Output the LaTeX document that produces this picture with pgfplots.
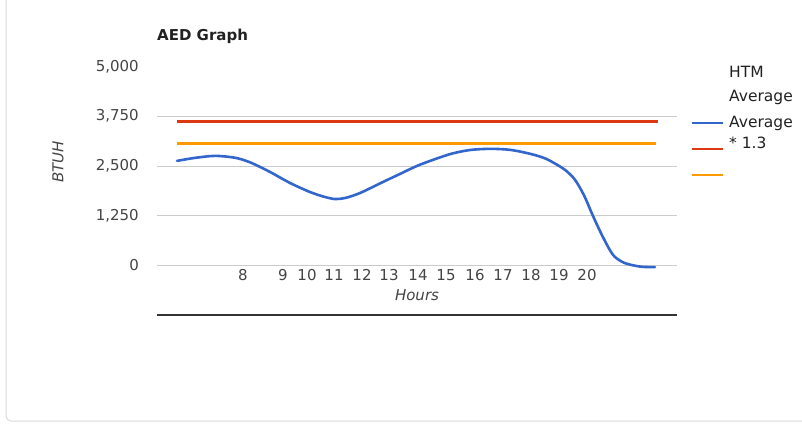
\documentclass[border=0pt]{standalone}
\usepackage{pgfplots}
\pgfplotsset{compat=1.18}
\usepackage{fontspec}
\setmainfont{DejaVu Sans}

\definecolor{gblue}{HTML}{3366CC}
\definecolor{gred}{HTML}{DC3912}
\definecolor{gorange}{HTML}{FF9900}
\definecolor{gridgray}{HTML}{CCCCCC}
\definecolor{ticktext}{HTML}{444444}
\definecolor{frame}{HTML}{DADADA}

% x = horizontal position on the chart, y = BTUH
\pgfplotstableread{
x   y
177 2626
195 2702
215 2752
235 2705
250 2590
270 2348
290 2071
310 1843
325 1717
335 1667
345 1692
360 1818
383 2096
400 2298
417 2500
435 2670
452 2810
470 2900
490 2929
510 2904
530 2805
545 2690
557 2530
566 2380
575 2150
584 1760
593 1240
603 707
613 262
623 76
633 0
643 -40
655 -45
}\htmavg

\begin{document}
\begin{tikzpicture}
\useasboundingbox (0pt,0pt) rectangle (802pt,424pt);
% card frame
\draw[frame, line width=1pt, rounded corners=5pt] (6pt,430pt) -- (6pt,3pt) -- (810pt,3pt);

\begin{axis}[
  at={(157pt,109pt)}, anchor=south west,
  scale only axis, width=520pt, height=248.5pt,
  xmin=157, xmax=677, ymin=-1250, ymax=5000,
  font=\fontsize{15}{18}\selectfont,
  tick label style={font=\fontsize{15}{18}\selectfont},
  /pgf/number format/assume math mode=true,
  axis line style={draw=none},
  major tick length=0pt,
  ytick={0,1250,2500,3750},
  extra y ticks={5000},
  extra y tick style={grid=none},
  ymajorgrids,
  grid style={gridgray, line width=0.8pt},
  yticklabel style={anchor=east, inner sep=0pt, xshift=-18pt, text=ticktext},
  scaled y ticks=false,
  xtick={243,283,307,334,362,389,418,446,475,503,531,559,587},
  xticklabels={8,9,10,11,12,13,14,15,16,17,18,19,20},
  xticklabel style={anchor=center, inner sep=0pt, yshift=40pt, text=ticktext},
  xlabel={\itshape Hours},
  xlabel style={at={(axis description cs:0.5,0)}, anchor=center, yshift=20pt, text=ticktext},
  ylabel={\itshape BTUH},
  ylabel style={at={([xshift=-99pt]axis description cs:0,0.616)}, anchor=center, text=ticktext},
  title={\bfseries AED Graph},
  title style={at={(axis description cs:0,1)}, anchor=west, inner sep=0pt, yshift=24pt, text=black!87},
  clip=false,
]
\addplot[gblue, line width=2.6pt, smooth, line cap=round] table[x=x, y=y] {\htmavg};
\addplot[gred, line width=2.5pt] coordinates {(177,3617) (658,3617)};
\addplot[gorange, line width=2.5pt] coordinates {(177,3063) (656,3063)};
\draw[black!80, line width=1.2pt] (rel axis cs:0,0) -- (rel axis cs:1,0);
\end{axis}

% legend
\begin{scope}[font=\fontsize{15.5}{18}\selectfont, every node/.style={anchor=west, inner sep=0pt, text=black!87}]
\draw[gblue, line width=2.5pt] (692pt,301pt) -- (723pt,301pt);
\draw[gred, line width=2.5pt] (692pt,275pt) -- (723pt,275pt);
\draw[gorange, line width=2.5pt] (692pt,249pt) -- (723pt,249pt);
\node at (729pt,352pt) {HTM};
\node at (729pt,327pt) {Average};
\node at (729pt,301pt) {Average};
\node at (729pt,281pt) {* 1.3};
\end{scope}
\end{tikzpicture}
\end{document}
